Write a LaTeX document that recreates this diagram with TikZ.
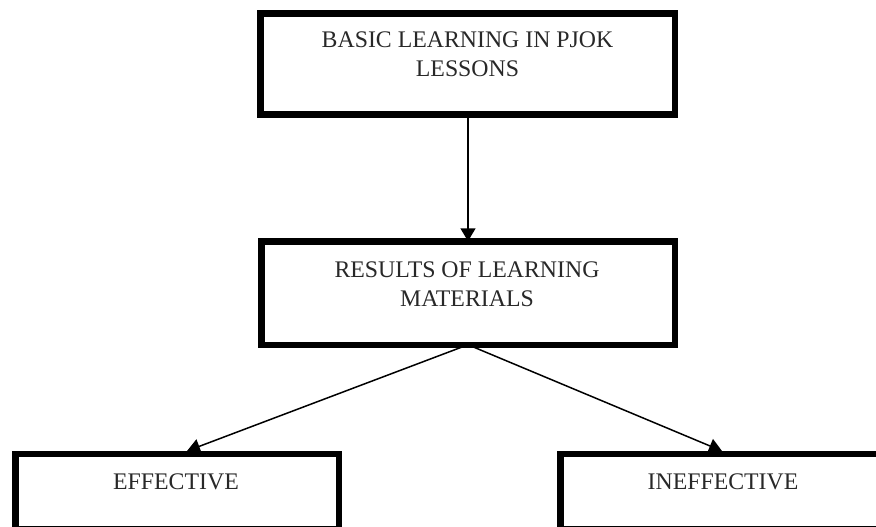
\documentclass[tikz,border=0pt]{standalone}
\usepackage{fontspec}
\setmainfont{Liberation Serif}
\usetikzlibrary{arrows.meta}
\definecolor{txt}{RGB}{40,40,40}
\begin{document}
\begin{tikzpicture}[x=1pt,y=-1pt,
  box/.style={draw=black,line width=6.5pt,minimum width=#1,inner sep=0pt,outer sep=0pt},
  lbl/.style={font=\fontsize{23.8}{29}\selectfont,text=txt,align=center,inner sep=0pt,anchor=north},
  conn/.style={line width=1.5pt,-{Triangle[length=13pt,width=15pt]}}]
\useasboundingbox (0,0) rectangle (876,527);
\clip (0,0) rectangle (876,527);
% connectors (drawn below the boxes)
\coordinate (src) at (466,346);
\coordinate (ltip) at (187,451);
\coordinate (rtip) at (722,451);
\node[box=414.5pt,minimum height=101pt] (top) at (467.75,64) {};
\node[box=413.5pt,minimum height=103.5pt] (mid) at (468,293) {};
\node[box=323.5pt,minimum height=74.75pt] (left) at (177,491.6) {};
\node[box=323.5pt,minimum height=74.75pt] (right) at (722,491.6) {};
\node[lbl] (ttop) at (467.5,32) {BASIC LEARNING IN PJOK\\LESSONS};
\node[lbl] (tmid) at (467,262) {RESULTS OF LEARNING\\MATERIALS};
\node[lbl] (tleft) at (176,474) {EFFECTIVE};
\node[lbl] (tright) at (723,474) {INEFFECTIVE};
\draw[conn] (top.south -| mid.north) -- (mid.north);
\draw[conn] (mid.south) -- (ltip);
\draw[conn] (mid.south) -- (rtip);
\end{tikzpicture}
\end{document}
